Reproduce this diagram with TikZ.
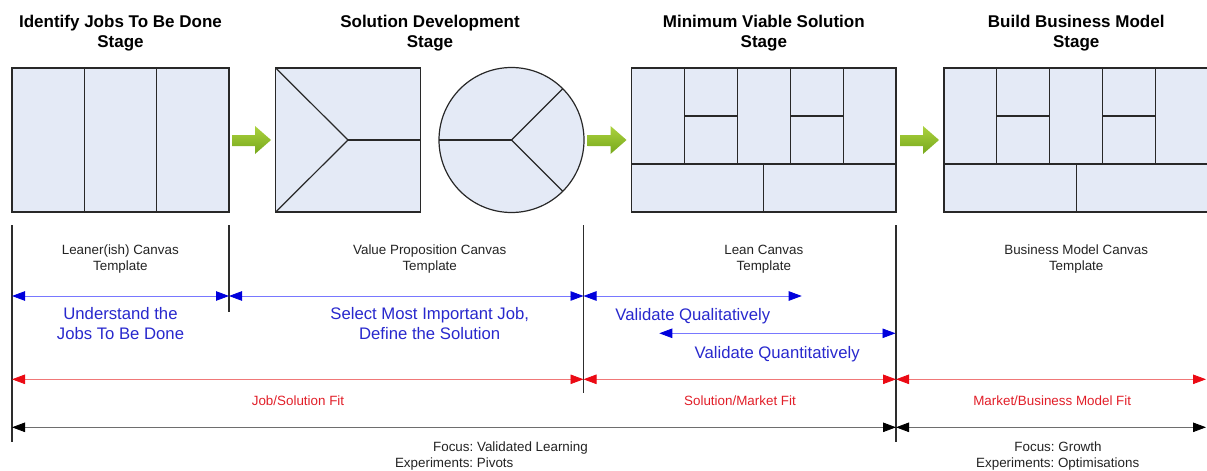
\documentclass[tikz,border=0pt]{standalone}
\usepackage{fontspec}
\setmainfont{Liberation Sans}
\usetikzlibrary{arrows.meta,calc}
\definecolor{canvasfill}{RGB}{228,234,246}
\definecolor{canvasline}{RGB}{40,40,40}
\definecolor{greenlight}{RGB}{172,210,62}
\definecolor{greendark}{RGB}{118,168,28}
\definecolor{bluetext}{RGB}{40,40,205}
\definecolor{blueline}{RGB}{120,120,255}
\definecolor{bluehead}{RGB}{0,0,220}
\definecolor{redtext}{RGB}{225,30,40}
\definecolor{redline}{RGB}{240,120,120}
\definecolor{redhead}{RGB}{235,10,20}
\definecolor{greytext}{RGB}{35,35,35}
\definecolor{blackline}{RGB}{110,110,110}
\definecolor{guidecol}{RGB}{45,45,45}
\tikzset{
  canvasbox/.style={draw=canvasline, fill=canvasfill, line width=1.2pt, inner sep=0pt, outer sep=0pt},
  gridline/.style={draw=canvasline, line width=1.2pt},
  greenarrow/.style={top color=greenlight, bottom color=greendark, draw=none},
  header/.style={font=\fontsize{17}{20}\selectfont\bfseries, text=black, align=center, inner sep=0pt},
  smalltext/.style={font=\fontsize{13.4}{15.7}\selectfont, text=greytext, align=center, inner sep=0pt},
  bluelabel/.style={font=\fontsize{16.7}{20}\selectfont, text=bluetext, align=center, inner sep=0pt},
  redlabel/.style={font=\fontsize{13.4}{15.7}\selectfont, text=redtext, inner sep=0pt},
  guide/.style={draw=guidecol, line width=1.1pt},
  bluedim/.style={draw=blueline, line width=0.8pt, {Triangle[length=13pt,width=9.5pt,color=bluehead]}-{Triangle[length=13pt,width=9.5pt,color=bluehead]}},
  reddim/.style={draw=redline, line width=0.8pt, {Triangle[length=13pt,width=9.5pt,color=redhead]}-{Triangle[length=13pt,width=9.5pt,color=redhead]}},
  blackdim/.style={draw=blackline, line width=0.8pt, {Triangle[length=13pt,width=9.5pt,color=black]}-{Triangle[length=13pt,width=9.5pt,color=black]}},
}
\newcommand{\leaninterior}[1]{%
  \begin{scope}[shift={(#1.north west)}]
    \draw[gridline] (52.86,0) -- (52.86,96);
    \draw[gridline] (105.72,0) -- (105.72,96);
    \draw[gridline] (158.58,0) -- (158.58,96);
    \draw[gridline] (211.44,0) -- (211.44,96);
    \draw[gridline] (0,96) -- (264.3,96);
    \draw[gridline] (52.86,48) -- (105.72,48);
    \draw[gridline] (158.58,48) -- (211.44,48);
    \draw[gridline] (132.15,96) -- (132.15,144);
  \end{scope}}
\newcommand{\greenarr}[1]{%
  \path[greenarrow, shift={(#1,0)}] (0,135) -- (23,135) -- (23,126) -- (39,140) -- (23,154) -- (23,146) -- (0,146) -- cycle;}
\begin{document}
\frenchspacing
\begin{tikzpicture}[x=1pt,y=-1pt]
\useasboundingbox (0,0) rectangle (1207,471);
\begin{scope}
\clip (0,0) rectangle (1207,471);
% headers
\node[header] (h1) at (120.5,32.8) {Identify Jobs To Be Done\\Stage};
\node[header] (h2) at (430,32.8) {Solution Development\\Stage};
\node[header] (h3) at (763.8,32.8) {Minimum Viable Solution\\Stage};
\node[header] (h4) at (1076.2,32.8) {Build Business Model\\Stage};
% canvas 1
\node[canvasbox, minimum width=217pt, minimum height=144pt] (c1) at (120.5,140) {};
\draw[gridline] ($(c1.north west)!1/3!(c1.north east)$) -- ($(c1.south west)!1/3!(c1.south east)$);
\draw[gridline] ($(c1.north west)!2/3!(c1.north east)$) -- ($(c1.south west)!2/3!(c1.south east)$);
% value proposition canvas
\node[canvasbox, minimum width=144.6pt, minimum height=144pt] (c2a) at (348,140) {};
\draw[gridline] (c2a.north west) -- (c2a.center) -- (c2a.south west);
\draw[gridline] (c2a.center) -- (c2a.east);
\node[canvasbox, circle, minimum size=145pt] (c2b) at (511.5,140) {};
\draw[gridline] (c2b.center) -- (c2b.west);
\draw[gridline] (c2b.center) -- (c2b.north east);
\draw[gridline] (c2b.center) -- (c2b.south east);
% lean canvas
\node[canvasbox, minimum width=264.3pt, minimum height=144pt] (c3) at (763.85,140) {};
\leaninterior{c3}
% business model canvas
\node[canvasbox, minimum width=264.3pt, minimum height=144pt] (c4) at (1076.15,140) {};
\leaninterior{c4}
% green arrows
\greenarr{232}
\greenarr{587.5}
\greenarr{900}
% guide lines
\coordinate (g1top) at (12,225);
\coordinate (g1bot) at (12,442);
\coordinate (g2top) at (229,225);
\coordinate (g2bot) at (229,312);
\coordinate (g3top) at (583.5,225);
\coordinate (g3bot) at (583.5,393);
\coordinate (g4top) at (896,225);
\coordinate (g4bot) at (896,442);
\draw[guide] (g1top) -- (g1bot);
\draw[guide] (g2top) -- (g2bot);
\draw[guide] (g3top) -- (g3bot);
\draw[guide] (g4top) -- (g4bot);
% template labels
\node[smalltext] (t1) at (120.3,259.3) {Leaner(ish) Canvas\\Template};
\node[smalltext] (t2) at (429.7,259.3) {Value Proposition Canvas\\Template};
\node[smalltext] (t3) at (763.8,259.3) {Lean Canvas\\Template};
\node[smalltext] (t4) at (1076.2,259.3) {Business Model Canvas\\Template};
% blue arrows
\coordinate (ba) at (12,296);
\coordinate (bb) at (229,296);
\coordinate (bc) at (583.5,296);
\coordinate (bd) at (801.7,296);
\coordinate (be) at (659.3,333.3);
\coordinate (bf) at (895.5,333.3);
\draw[bluedim] (ba) -- (bb);
\draw[bluedim] (bb) -- (bc);
\draw[bluedim] (bc) -- (bd);
\draw[bluedim] (be) -- (bf);
\node[bluelabel] (u1) at (120.5,323.3) {Understand the\\Jobs To Be Done};
\node[bluelabel] (u2) at (429.7,323.3) {Select Most Important Job,\\Define the Solution};
\node[bluelabel, anchor=base] (u3) at (692.8,320) {Validate Qualitatively};
\node[bluelabel, anchor=base] (u4) at (777.2,358.7) {Validate Quantitatively};
% red arrows
\coordinate (ra) at (12,379.3);
\coordinate (rb) at (583.5,379.3);
\coordinate (rc) at (896,379.3);
\coordinate (rd) at (1206,379.3);
\draw[reddim] (ra) -- (rb);
\draw[reddim] (rb) -- (rc);
\draw[reddim] (rc) -- (rd);
\node[redlabel, anchor=base] (f1) at (298,405.5) {Job/Solution Fit};
\node[redlabel, anchor=base] (f2) at (740,405.5) {Solution/Market Fit};
\node[redlabel, anchor=base] (f3) at (1052.2,405.5) {Market/Business Model Fit};
% black arrows
\coordinate (ka) at (12,427.3);
\coordinate (kb) at (896,427.3);
\coordinate (kc) at (1206,427.3);
\draw[blackdim] (ka) -- (kb);
\draw[blackdim] (kb) -- (kc);
\node[smalltext, anchor=base] (p1) at (510.5,451.5) {Focus: Validated Learning};
\node[smalltext, anchor=base] (p2) at (454.2,467.5) {Experiments: Pivots};
\node[smalltext, anchor=base] (p3) at (1058,451.5) {Focus: Growth};
\node[smalltext, anchor=base] (p4) at (1057.7,467.5) {Experiments: Optimisations};
\end{scope}
\end{tikzpicture}
\end{document}
